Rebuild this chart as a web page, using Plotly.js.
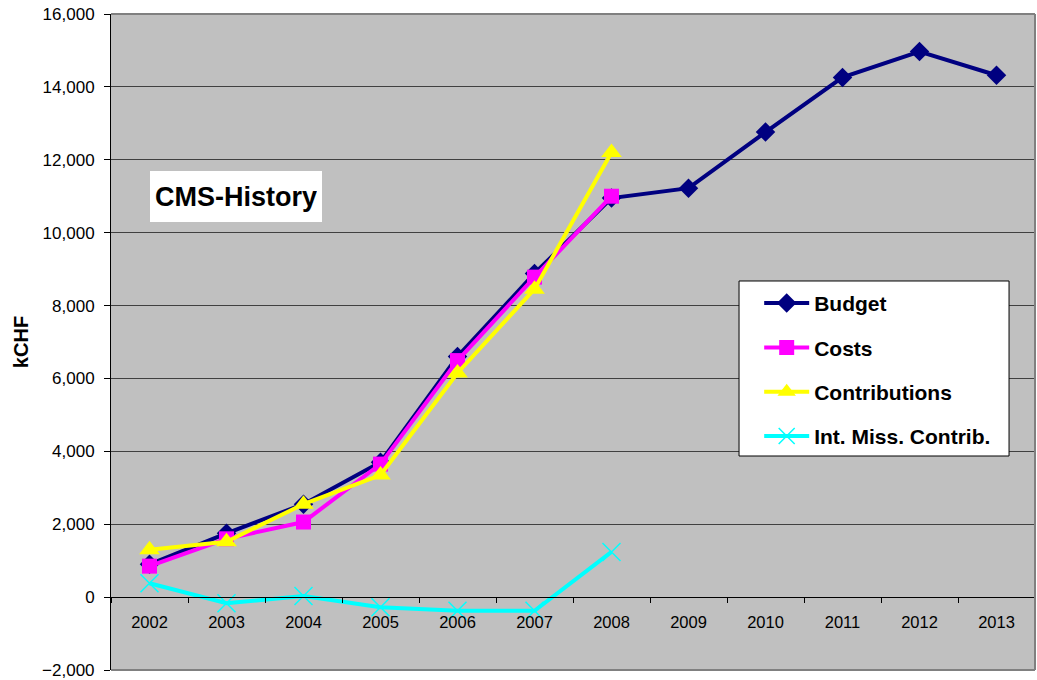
<!DOCTYPE html>
<html>
<head>
<meta charset="utf-8">
<script src="https://cdn.plot.ly/plotly-3.0.1.min.js"></script>
<style>html,body{margin:0;padding:0;background:#fff;}#chart{width:1037px;height:680px;}</style>
</head>
<body>
<div id="chart"></div>
<script>
const years = ['2002','2003','2004','2005','2006','2007','2008','2009','2010','2011','2012','2013'];
const budget = [900, 1750, 2550, 3700, 6600, 8880, 10950, 11220, 12760, 14260, 14970, 14320];
const costs = [850, 1600, 2060, 3650, 6490, 8780, 11000];
const contributions = [1300, 1520, 2550, 3350, 6150, 8450, 12200];
const intMissContrib = [380, -170, 30, -280, -375, -375, 1240];
const seriesNames = ['Budget', 'Costs', 'Contributions', 'Int. Miss. Contrib.'];
const yTicks = [-2000, 0, 2000, 4000, 6000, 8000, 10000, 12000, 14000, 16000];

const FONT = 'Liberation Sans, Arial, Helvetica, sans-serif';

const traces = [
  {x: years, y: budget, name: seriesNames[0], type: 'scatter', mode: 'lines+markers', legendgroup: 'a',
   line: {color: '#000080', width: 4}, marker: {symbol: 'diamond', size: 15, color: '#000080'}},
  {x: years.slice(0, costs.length), y: costs, name: seriesNames[1], type: 'scatter', mode: 'lines+markers', legendgroup: 'b',
   line: {color: '#FF00FF', width: 4}, marker: {symbol: 'square', size: 15, color: '#FF00FF'}},
  {x: years.slice(0, contributions.length), y: contributions, name: seriesNames[2], type: 'scatter', mode: 'lines+markers', legendgroup: 'c',
   line: {color: '#FFFF00', width: 4}, marker: {symbol: 'triangle-up', size: 18, color: '#FFFF00'}},
  {x: years.slice(0, intMissContrib.length), y: intMissContrib, name: seriesNames[3], type: 'scatter', mode: 'lines+markers', legendgroup: 'd',
   line: {color: '#00FFFF', width: 4}, marker: {symbol: 'x-thin', size: 18, color: '#00FFFF', line: {color: '#00FFFF', width: 1.5}}}
];

const layout = {
  width: 1037, height: 680,
  margin: {l: 111, r: 2, t: 14, b: 10, pad: 0},
  paper_bgcolor: '#FFFFFF',
  plot_bgcolor: '#C0C0C0',
  font: {family: FONT, color: '#000000'},
  showlegend: true,
  legend: {
    x: 0.7015, y: 0.59, xanchor: 'left', yanchor: 'top',
    bgcolor: 'rgba(0,0,0,0)', borderwidth: 0,
    font: {family: FONT, size: 21, color: '#000', weight: 'bold'},
    tracegroupgap: 14, traceorder: 'grouped', itemwidth: 45
  },
  xaxis: {
    type: 'category', anchor: 'free', position: 1/9, range: [-0.5, 11.5],
    showline: true, linecolor: '#000', linewidth: 1,
    ticks: 'outside', tickson: 'boundaries', ticklen: 5, tickcolor: '#000',
    ticklabelstandoff: 10,
    tickfont: {family: FONT, size: 16.5, color: '#000'},
    showgrid: false, zeroline: false, fixedrange: true
  },
  yaxis: {
    range: [-2000, 16000], tickvals: yTicks, tickformat: ',d',
    showgrid: true, gridcolor: '#404040', gridwidth: 1,
    zeroline: true, zerolinecolor: '#000', zerolinewidth: 1,
    showline: true, linecolor: '#000', linewidth: 1,
    ticks: 'outside', ticklen: 6, tickcolor: '#000',
    ticklabelstandoff: 6,
    tickfont: {family: FONT, size: 17, color: '#000'},
    title: {text: 'kCHF', font: {family: FONT, size: 20, color: '#000', weight: 'bold'}, standoff: 8},
    automargin: false, fixedrange: true
  },
  shapes: [
    {type: 'line', xref: 'paper', yref: 'paper', x0: 0, x1: 1, y0: 1, y1: 1, line: {color: '#808080', width: 2}},
    {type: 'line', xref: 'paper', yref: 'paper', x0: 1, x1: 1, y0: 0, y1: 1, line: {color: '#808080', width: 2}},
    {type: 'line', xref: 'paper', yref: 'paper', x0: 0, x1: 1, y0: 0, y1: 0, line: {color: '#808080', width: 2}},
    {type: 'rect', xref: 'paper', yref: 'paper', x0: 0.6797, x1: 0.9719, y0: 0.3262, y1: 0.593,
     fillcolor: '#FFFFFF', line: {color: '#000', width: 1}, layer: 'above'}
  ],
  annotations: [
    {xref: 'paper', yref: 'paper', x: (236 - 111) / 924, y: (670 - 196) / 656, xanchor: 'center', yanchor: 'middle',
     text: 'CMS-History', showarrow: false, bgcolor: '#FFFFFF', borderpad: 5, borderwidth: 0,
     width: 162, height: 41,
     font: {family: FONT, size: 27, color: '#000', weight: 'bold'}}
  ]
};

Plotly.newPlot('chart', traces, layout, {staticPlot: true, displayModeBar: false});
</script>
</body>
</html>
